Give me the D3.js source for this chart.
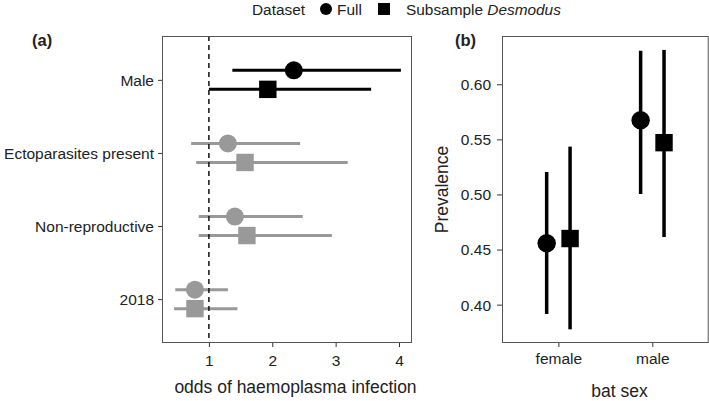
<!DOCTYPE html>
<html>
<head>
<meta charset="utf-8">
<script src="https://cdn.jsdelivr.net/npm/d3@7"></script>
<style>
  body { margin: 0; background: #fff; }
  text { font-family: "Liberation Sans", Arial, sans-serif; fill: #222; }
</style>
</head>
<body>
<script>
// panel (a): odds ratios
const predictors = ['Male', 'Ectoparasites present', 'Non-reproductive', '2018'];
const fullOdds = [2.34, 1.30, 1.41, 0.78];
const fullLow = [1.37, 0.72, 0.84, 0.47];
const fullHigh = [4.03, 2.44, 2.48, 1.30];
const subOdds = [1.93, 1.57, 1.60, 0.78];
const subLow = [1.00, 0.80, 0.84, 0.45];
const subHigh = [3.56, 3.19, 2.94, 1.45];
const significant = [true, false, false, false];
const oddsTicks = [1, 2, 3, 4];

// panel (b): prevalence by sex
const sexes = ['female', 'male'];
const fullPrev = [0.4557, 0.5673];
const fullPrevLow = [0.3916, 0.5004];
const fullPrevHigh = [0.5204, 0.6305];
const subPrev = [0.460, 0.547];
const subPrevLow = [0.3776, 0.4614];
const subPrevHigh = [0.5434, 0.6312];
const prevTicks = [0.40, 0.45, 0.50, 0.55, 0.60];

const width = 709;
const height = 401;
const grey = '#999999';

const svg = d3.select("body").append("svg")
    .attr("width", width)
    .attr("height", height);

// legend on top
const legend = svg.append("g");
legend.append("text").attr("x", 252).attr("y", 15).attr("font-size", 15.4).text("Dataset");
legend.append("circle").attr("cx", 326).attr("cy", 9).attr("r", 6).attr("fill", "#000");
legend.append("text").attr("x", 337).attr("y", 15).attr("font-size", 15.4).text("Full");
legend.append("rect").attr("x", 378).attr("y", 3).attr("width", 12).attr("height", 12).attr("fill", "#000");
const sub = legend.append("text").attr("x", 406).attr("y", 14.5).attr("font-size", 15.4);
sub.append("tspan").text("Subsample ");
sub.append("tspan").attr("font-style", "italic").text("Desmodus");

// ---------- panel (a) ----------
const a = { left: 162, right: 412, top: 36, bottom: 343 };

const xA = d3.scaleLinear().domain([0.26, 4.205]).range([a.left, a.right]);
const yA = d3.scalePoint().domain(predictors).range([a.top, a.bottom]).padding(0.6);
const dodgeA = 9.5;

svg.append("text").attr("x", 32).attr("y", 46).attr("font-size", 16.5)
    .attr("font-weight", "bold").text("(a)");

const rowsA = predictors.map((p, i) => ({
    p, sig: significant[i],
    full: [fullOdds[i], fullLow[i], fullHigh[i]],
    sub: [subOdds[i], subLow[i], subHigh[i]]
}));

const gA = svg.append("g");
rowsA.forEach(r => {
    const col = r.sig ? "#000" : grey;
    const yf = yA(r.p) - dodgeA;
    const ys = yA(r.p) + dodgeA;
    gA.append("line").attr("x1", xA(r.full[1])).attr("x2", xA(r.full[2]))
        .attr("y1", yf).attr("y2", yf).attr("stroke", col).attr("stroke-width", 3);
    gA.append("line").attr("x1", xA(r.sub[1])).attr("x2", xA(r.sub[2]))
        .attr("y1", ys).attr("y2", ys).attr("stroke", col).attr("stroke-width", 3);
    gA.append("circle").attr("cx", xA(r.full[0])).attr("cy", yf).attr("r", 9).attr("fill", col);
    gA.append("rect").attr("x", xA(r.sub[0]) - 8.7).attr("y", ys - 8.7)
        .attr("width", 17.4).attr("height", 17.4).attr("fill", col);
});

// reference line at odds = 1
svg.append("line")
    .attr("x1", xA(1)).attr("x2", xA(1))
    .attr("y1", a.top).attr("y2", a.bottom)
    .attr("stroke", "#111").attr("stroke-width", 1.5)
    .attr("stroke-dasharray", "5,4");

svg.append("rect")
    .attr("x", a.left + 0.5).attr("y", a.top + 0.5)
    .attr("width", a.right - a.left - 1).attr("height", a.bottom - a.top - 1)
    .attr("fill", "none").attr("stroke", "#555").attr("stroke-width", 1);

const xAxisA = svg.append("g")
    .attr("transform", `translate(0,${a.bottom})`)
    .call(d3.axisBottom(xA).tickValues(oddsTicks).tickSize(4).tickPadding(8).tickFormat(d3.format("d")));
const yAxisA = svg.append("g")
    .attr("transform", `translate(${a.left},0)`)
    .call(d3.axisLeft(yA).tickSize(4).tickPadding(4));

[xAxisA, yAxisA].forEach(ax => {
    ax.select(".domain").remove();
    ax.selectAll(".tick line").attr("stroke", "#333");
    ax.selectAll(".tick text").attr("font-size", 15.5).attr("fill", "#222")
        .attr("font-family", '"Liberation Sans", Arial, sans-serif');
});
yAxisA.selectAll(".tick text").attr("dy", "0.35em");

svg.append("text").attr("x", 295.5).attr("y", 393).attr("text-anchor", "middle")
    .attr("font-size", 17.5).text("odds of haemoplasma infection");

// ---------- panel (b) ----------
const b = { left: 502, right: 708.7, top: 36, bottom: 343 };

const xB = d3.scalePoint().domain(sexes).range([b.left, b.right]).padding(0.6);
const yB = d3.scaleLinear().domain([0.3652, 0.6438]).range([b.bottom, b.top]);
const dodgeB = 11.7;

svg.append("text").attr("x", 455).attr("y", 46).attr("font-size", 16.5)
    .attr("font-weight", "bold").text("(b)");

const gB = svg.append("g");
sexes.forEach((s, i) => {
    const xf = xB(s) - dodgeB;
    const xs = xB(s) + dodgeB;
    gB.append("line").attr("x1", xf).attr("x2", xf)
        .attr("y1", yB(fullPrevLow[i])).attr("y2", yB(fullPrevHigh[i]))
        .attr("stroke", "#000").attr("stroke-width", 3.5);
    gB.append("line").attr("x1", xs).attr("x2", xs)
        .attr("y1", yB(subPrevLow[i])).attr("y2", yB(subPrevHigh[i]))
        .attr("stroke", "#000").attr("stroke-width", 3.5);
    gB.append("circle").attr("cx", xf).attr("cy", yB(fullPrev[i])).attr("r", 9.2).attr("fill", "#000");
    gB.append("rect").attr("x", xs - 8.7).attr("y", yB(subPrev[i]) - 8.7)
        .attr("width", 17.4).attr("height", 17.4).attr("fill", "#000");
});

svg.append("rect")
    .attr("x", b.left + 0.5).attr("y", b.top + 0.5)
    .attr("width", b.right - b.left - 1).attr("height", b.bottom - b.top - 1)
    .attr("fill", "none").attr("stroke", "#555").attr("stroke-width", 1);

const xAxisB = svg.append("g")
    .attr("transform", `translate(0,${b.bottom})`)
    .call(d3.axisBottom(xB).tickSize(4).tickPadding(6));
const yAxisB = svg.append("g")
    .attr("transform", `translate(${b.left},0)`)
    .call(d3.axisLeft(yB).tickValues(prevTicks).tickSize(5).tickPadding(6).tickFormat(d3.format(".2f")));

[xAxisB, yAxisB].forEach(ax => {
    ax.select(".domain").remove();
    ax.selectAll(".tick line").attr("stroke", "#333");
    ax.selectAll(".tick text").attr("font-size", 15.5).attr("fill", "#222")
        .attr("font-family", '"Liberation Sans", Arial, sans-serif');
});
yAxisB.selectAll(".tick text").attr("dy", "0.35em");

svg.append("text").attr("x", 619.5).attr("y", 397).attr("text-anchor", "middle")
    .attr("font-size", 17.5).text("bat sex");

svg.append("text")
    .attr("transform", "translate(448,189.5) rotate(-90)")
    .attr("text-anchor", "middle").attr("font-size", 17.5).text("Prevalence");
</script>
</body>
</html>
